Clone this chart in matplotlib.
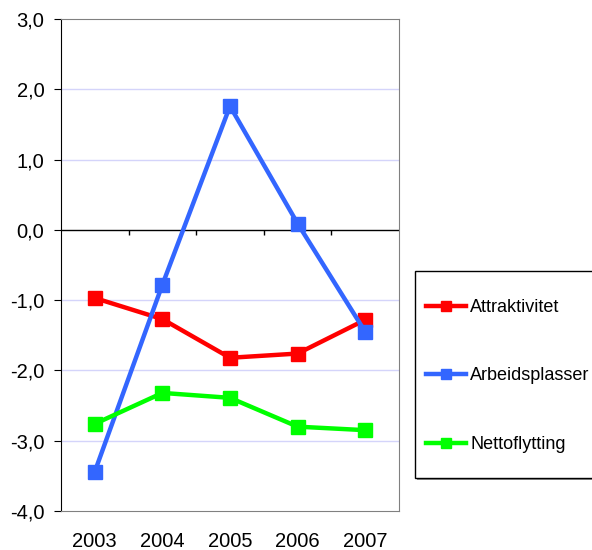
import matplotlib.pyplot as plt
from matplotlib.patches import Rectangle
from matplotlib.ticker import FuncFormatter

plt.rcParams['font.family'] = ['Liberation Sans', 'DejaVu Sans']

# Datos
years = ['2003', '2004', '2005', '2006', '2007']
attraktivitet = [-0.97, -1.27, -1.82, -1.76, -1.28]
arbeidsplasser = [-3.44, -0.78, 1.76, 0.09, -1.45]
nettoflytting = [-2.76, -2.32, -2.39, -2.80, -2.85]

series = [
    ('Attraktivitet', attraktivitet, '#FF0000'),
    ('Arbeidsplasser', arbeidsplasser, '#3366FF'),
    ('Nettoflytting', nettoflytting, '#00FF00'),
]

W, H = 592, 550
fig = plt.figure(figsize=(W / 100, H / 100), dpi=100)
ax = fig.add_axes([61 / W, 1 - 511 / H, 338 / W, 492 / H])

x = list(range(len(years)))
handles = []
for name, vals, col in series:
    h, = ax.plot(x, vals, color=col, lw=3.2, marker='s', markersize=9.5, label=name)
    handles.append(h)

ax.set_xlim(-0.5, len(years) - 0.5)
ax.set_ylim(-4, 3)
ax.set_yticks(range(-4, 4))
ax.yaxis.set_major_formatter(FuncFormatter(lambda v, p: f'{v:.1f}'.replace('.', ',')))
ax.set_xticks(x)
ax.set_xticklabels(years)

# Rejilla horizontal
for v in [-3, -2, -1, 1, 2]:
    ax.axhline(v, color='#D4D4FA', lw=1, zorder=0)

# Eje de categorías en cero con marcas
ax.axhline(0, color='black', lw=1, zorder=1)
ax.vlines([i + 0.5 for i in range(len(years) - 1)], -0.07, 0, color='black', lw=1)

for s in ['top', 'right', 'bottom']:
    ax.spines[s].set_color('#808080')
ax.spines['left'].set_color('black')

ax.tick_params(axis='y', length=5, pad=7, labelsize=14.5)
ax.tick_params(axis='x', length=0, pad=15, labelsize=14.5)

# Marco de la leyenda con sombra
fig.patches.append(Rectangle((417 / W, 1 - 480 / H), 200 / W, 207 / H,
                             transform=fig.transFigure, facecolor='#909090',
                             edgecolor='none', zorder=1))
fig.patches.append(Rectangle((415 / W, 1 - 478 / H), 200 / W, 207 / H,
                             transform=fig.transFigure, facecolor='white',
                             edgecolor='black', lw=1, zorder=2))

leg = fig.legend(handles=handles, loc='upper left',
                 bbox_to_anchor=(426 / W, 1 - 299 / H),
                 frameon=False, fontsize=13, labelspacing=2.85,
                 handlelength=2.2, handletextpad=0.25, borderpad=0,
                 borderaxespad=0, markerscale=0.75)
leg.set_zorder(3)

plt.savefig('out.png', dpi=100)
